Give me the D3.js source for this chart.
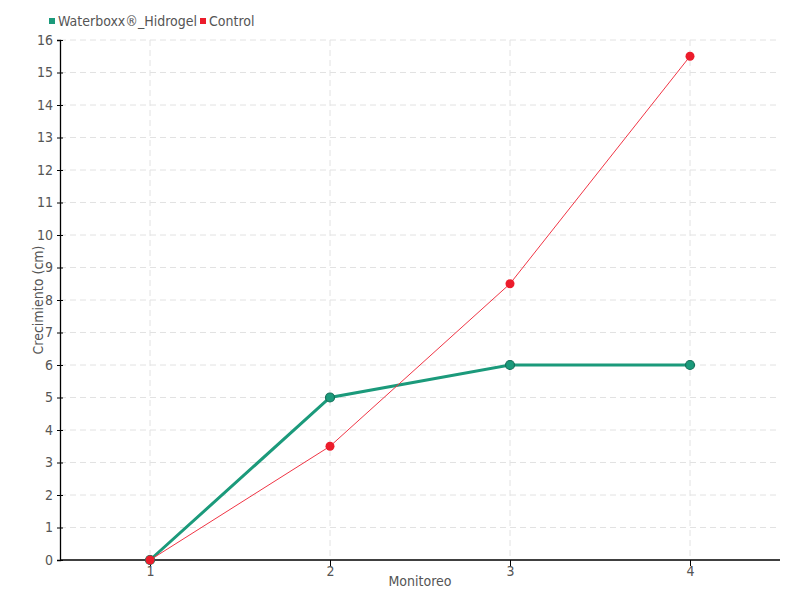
<!DOCTYPE html>
<html>
<head>
<meta charset="utf-8">
<script src="https://cdn.jsdelivr.net/npm/d3@7"></script>
<style>
  body { margin: 0; background: #fff; }
  text { font-family: "Liberation Sans Narrow", "DejaVu Sans Condensed", sans-serif; }
</style>
</head>
<body>
<div id="chart"></div>
<script>
var months = [1, 2, 3, 4];
var waterboxx = [0, 5, 6, 6];
var control = [0, 3.5, 8.5, 15.5];
var yTicks = d3.range(0, 17);
var seriesNames = ["Waterboxx®_Hidrogel", "Control"];
var colors = ["#1b9a7b", "#ec1c2b"];

const W = 800, H = 600;
const margin = { left: 60, right: 20, top: 40, bottom: 40 };

var svg = d3.select("#chart").append("svg")
    .attr("width", W)
    .attr("height", H);

var x = d3.scaleLinear().domain([0.5, 4.5]).range([margin.left, W - margin.right]);
var y = d3.scaleLinear().domain([0, 16]).range([H - margin.bottom, margin.top]);

// grid
svg.append("g").selectAll("line")
    .data(yTicks.slice(1))
    .enter().append("line")
    .attr("x1", margin.left).attr("x2", W - margin.right)
    .attr("y1", d => y(d)).attr("y2", d => y(d))
    .attr("stroke", "#e2e2e2").attr("stroke-dasharray", "6,4");

svg.append("g").selectAll("line")
    .data(months)
    .enter().append("line")
    .attr("x1", d => x(d)).attr("x2", d => x(d))
    .attr("y1", margin.top).attr("y2", H - margin.bottom)
    .attr("stroke", "#e2e2e2").attr("stroke-dasharray", "6,4");

// axes
var yAxis = svg.append("g")
    .attr("transform", "translate(" + margin.left + ",0)")
    .call(d3.axisLeft(y).tickValues(yTicks).tickFormat(d3.format("d")).tickSize(3).tickPadding(4));
yAxis.selectAll(".tick line").attr("x2", 3).attr("x1", -3);

var xAxis = svg.append("g")
    .attr("transform", "translate(0," + (H - margin.bottom) + ")")
    .call(d3.axisBottom(x).tickValues(months).tickFormat(d3.format("d")).tickSize(6).tickPadding(0).tickSizeOuter(0));

[yAxis, xAxis].forEach(function (a) {
    a.select(".domain").attr("stroke", "#000").attr("stroke-width", 1.3);
    a.selectAll(".tick line").attr("stroke", "#000");
    a.selectAll("text").attr("fill", "#555").style("font-size", "14px");
});
xAxis.select(".domain").attr("d", "M" + margin.left + ",0H" + (W - margin.right));

// axis titles
svg.append("text")
    .attr("transform", "translate(43," + ((margin.top + H - margin.bottom) / 2) + ") rotate(-90)")
    .attr("text-anchor", "middle")
    .attr("fill", "#555")
    .style("font-size", "14px")
    .text("Crecimiento (cm)");

svg.append("text")
    .attr("x", (margin.left + W - margin.right) / 2)
    .attr("y", 586)
    .attr("text-anchor", "middle")
    .attr("fill", "#555")
    .style("font-size", "14px")
    .text("Monitoreo");

var line = d3.line()
    .x((d, i) => x(months[i]))
    .y(d => y(d));

// Waterboxx series
svg.append("path")
    .attr("d", line(waterboxx))
    .attr("fill", "none")
    .attr("stroke", colors[0])
    .attr("stroke-width", 3);

svg.append("g").selectAll("circle")
    .data(waterboxx)
    .enter().append("circle")
    .attr("cx", (d, i) => x(months[i]))
    .attr("cy", d => y(d))
    .attr("r", 4.5)
    .attr("fill", colors[0])
    .attr("stroke", "#15705a")
    .attr("stroke-width", 1.2);

// Control series
svg.append("path")
    .attr("d", line(control))
    .attr("fill", "none")
    .attr("stroke", "#f03545")
    .attr("stroke-width", 1);

svg.append("g").selectAll("circle")
    .data(control)
    .enter().append("circle")
    .attr("cx", (d, i) => x(months[i]))
    .attr("cy", d => y(d))
    .attr("r", 4.5)
    .attr("fill", colors[1]);

// legend
var legend = svg.append("g");
var lx = [49, 200];
seriesNames.forEach(function (name, i) {
    legend.append("rect")
        .attr("x", lx[i]).attr("y", 18)
        .attr("width", 6).attr("height", 6)
        .attr("fill", colors[i]);
    legend.append("text")
        .attr("x", lx[i] + 9).attr("y", 26)
        .attr("fill", "#555")
        .style("font-size", "14px")
        .text(name);
});
</script>
</body>
</html>
